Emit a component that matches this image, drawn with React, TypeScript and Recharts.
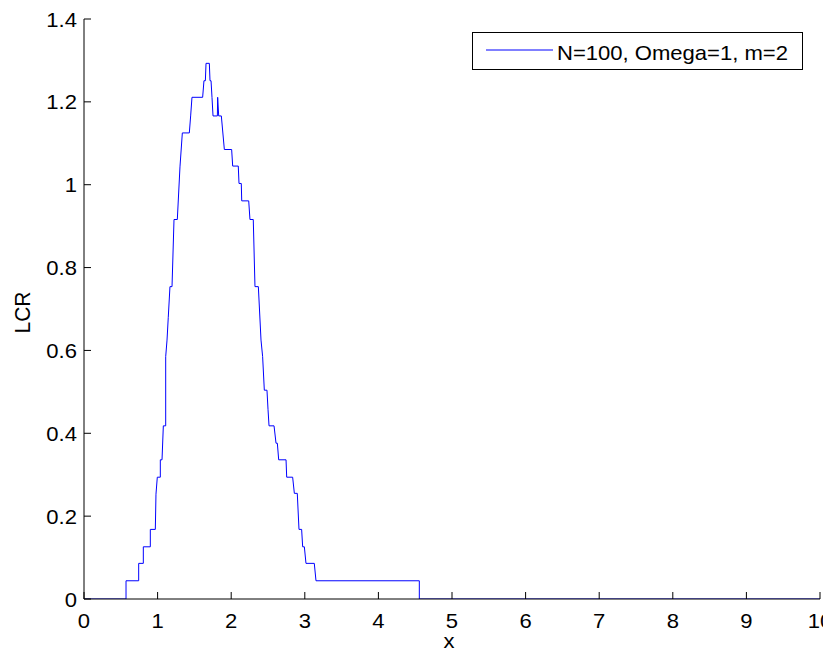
import { Label, Legend, Line, LineChart, XAxis, YAxis } from "recharts";

// LCR curve (corners of the staircase)
const xs = [
  0, 0.571, 0.571, 0.743, 0.743, 0.806, 0.806, 0.901, 0.901, 0.969,
  0.978, 0.996, 1.037, 1.037, 1.06, 1.078, 1.11, 1.11, 1.128, 1.145,
  1.168, 1.196, 1.223, 1.268, 1.304, 1.336, 1.431, 1.449, 1.467, 1.612,
  1.63, 1.649, 1.658, 1.703, 1.712, 1.726, 1.739, 1.753, 1.812, 1.816,
  1.83, 1.866, 1.907, 2.006, 2.02, 2.096, 2.106, 2.137, 2.143, 2.238,
  2.255, 2.3, 2.323, 2.369, 2.405, 2.427, 2.45, 2.486, 2.5, 2.514,
  2.582, 2.609, 2.627, 2.645, 2.745, 2.754, 2.835, 2.858, 2.898, 2.921,
  2.957, 2.971, 2.994, 3.016, 3.129, 3.152, 4.556, 4.556, 10,
];
const lcr = [
  0, 0, 0.044, 0.044, 0.086, 0.086, 0.126, 0.126, 0.168, 0.168,
  0.253, 0.294, 0.294, 0.336, 0.336, 0.418, 0.418, 0.585, 0.625, 0.68,
  0.754, 0.754, 0.916, 0.916, 1.043, 1.125, 1.125, 1.166, 1.211, 1.211,
  1.251, 1.251, 1.293, 1.293, 1.251, 1.251, 1.211, 1.166, 1.166, 1.211,
  1.166, 1.166, 1.085, 1.085, 1.045, 1.045, 1.003, 1.003, 0.961, 0.961,
  0.916, 0.916, 0.754, 0.754, 0.625, 0.585, 0.504, 0.504, 0.458, 0.418,
  0.418, 0.376, 0.376, 0.336, 0.336, 0.294, 0.294, 0.255, 0.255, 0.168,
  0.168, 0.126, 0.126, 0.086, 0.086, 0.044, 0.044, 0, 0,
];
const xTicks = [0, 1, 2, 3, 4, 5, 6, 7, 8, 9, 10];
const yTicks = [0, 0.2, 0.4, 0.6, 0.8, 1, 1.2, 1.4];
const seriesName = "N=100, Omega=1, m=2";

const data = xs.map((x, i) => ({ x, lcr: lcr[i] }));

const FONT = "'Liberation Sans', Arial, Helvetica, sans-serif";
const FS = 21;
const SX = 1.05; // reference text is a bit wide
const TICK = 7;

// text stretched horizontally like the reference
const WideText = ({ x, y, anchor = "start", rotate = 0, children }: any) => (
  <text
    transform={`translate(${x} ${y}) scale(${SX} 1) rotate(${rotate})`}
    textAnchor={anchor}
    fontFamily={FONT}
    fontSize={FS}
    fill="#000"
  >
    {children}
  </text>
);

const BottomTick = ({ x, y, payload }: any) => (
  <g>
    <line x1={x} y1={y} x2={x} y2={y - TICK} stroke="#000" />
    <WideText x={x} y={y + 29} anchor="middle">
      {payload.value}
    </WideText>
  </g>
);

const TopTick = ({ x, y }: any) => (
  <line x1={x} y1={y} x2={x} y2={y + TICK} stroke="#000" />
);

const LeftTick = ({ x, y, payload }: any) => (
  <g>
    <line x1={x} y1={y} x2={x + TICK} y2={y} stroke="#000" />
    <WideText x={x - 7} y={y + 7.5} anchor="end">
      {payload.value}
    </WideText>
  </g>
);

const RightTick = ({ x, y }: any) => (
  <line x1={x} y1={y} x2={x - TICK} y2={y} stroke="#000" />
);

const LegendBox = () => (
  <div
    style={{
      width: 331,
      height: 38,
      boxSizing: "border-box",
      border: "1px solid #000",
      background: "#fff",
    }}
  >
    <svg width={329} height={36} style={{ display: "block" }}>
      <line x1={13} y1={17} x2={80} y2={17} stroke="#0000ff" />
      <WideText x={84} y={27}>
        {seriesName}
      </WideText>
    </svg>
  </div>
);

export default function App() {
  return (
    <LineChart width={823} height={646} data={data} margin={{ top: 11, right: 11, bottom: 0, left: 0 }}>
      <XAxis
        xAxisId="b"
        dataKey="x"
        type="number"
        domain={[0, 10]}
        ticks={xTicks}
        allowDataOverflow
        height={55}
        tickSize={0}
        tickMargin={0}
        tick={<BottomTick />}
        axisLine={{ stroke: "#000" }}
      >
        <Label
          content={({ viewBox }: any) => (
            <WideText x={viewBox.x + viewBox.width / 2 - 3} y={viewBox.y + 49} anchor="middle">
              x
            </WideText>
          )}
        />
      </XAxis>
      <XAxis
        xAxisId="t"
        orientation="top"
        dataKey="x"
        type="number"
        domain={[0, 10]}
        ticks={xTicks}
        allowDataOverflow
        height={0}
        tickSize={0}
        tickMargin={0}
        tick={<TopTick />}
        axisLine={{ stroke: "#000" }}
      />
      <YAxis
        yAxisId="l"
        type="number"
        domain={[0, 1.4]}
        ticks={yTicks}
        allowDataOverflow
        width={76}
        tickSize={0}
        tickMargin={0}
        tick={<LeftTick />}
        axisLine={{ stroke: "#000" }}
      >
        <Label
          content={({ viewBox }: any) => (
            <WideText
              x={viewBox.x + 22}
              y={viewBox.y + viewBox.height / 2 + 3.5}
              anchor="middle"
              rotate={-90}
            >
              LCR
            </WideText>
          )}
        />
      </YAxis>
      <YAxis
        yAxisId="r"
        orientation="right"
        type="number"
        domain={[0, 1.4]}
        ticks={yTicks}
        allowDataOverflow
        width={0}
        tickSize={0}
        tickMargin={0}
        tick={<RightTick />}
        axisLine={{ stroke: "#000" }}
      />
      <Legend
        layout="horizontal"
        align="center"
        verticalAlign="middle"
        content={<LegendBox />}
        wrapperStyle={{ left: 464, top: 24, width: 331, height: 38 }}
      />
      <Line
        xAxisId="b"
        yAxisId="l"
        type="linear"
        dataKey="lcr"
        name={seriesName}
        stroke="#0000ff"
        strokeWidth={1}
        dot={false}
        isAnimationActive={false}
      />
    </LineChart>
  );
}
